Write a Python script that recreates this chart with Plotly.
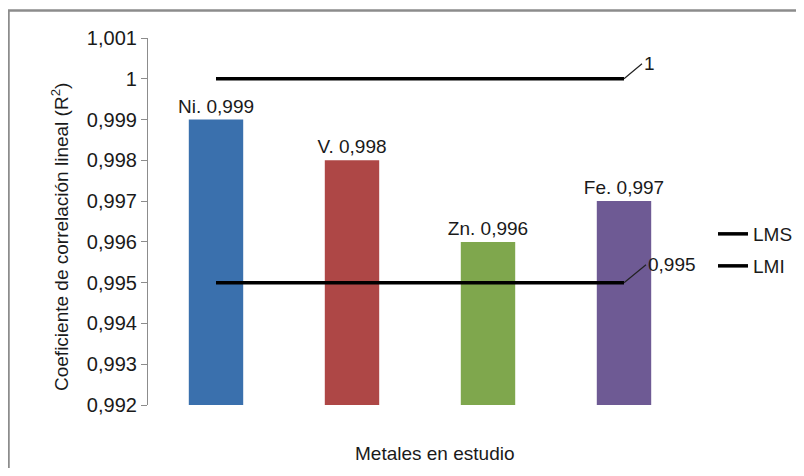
import plotly.graph_objects as go

metals = ["Ni", "V", "Zn", "Fe"]
r2_values = [0.999, 0.998, 0.996, 0.997]
bar_colors = ["#3A70AD", "#AE4746", "#7FA74D", "#6E5A94"]
lms_value = 1.0
lmi_value = 0.995
y_ticks = [0.992, 0.993, 0.994, 0.995, 0.996, 0.997, 0.998, 0.999, 1.0, 1.001]

FONT = "Liberation Sans, Arial, sans-serif"
TXT = "#1a1a1a"
x_pos = list(range(len(metals)))

def fmt(v):
    s = f"{v:.3f}".rstrip("0").rstrip(".")
    return s.replace(".", ",")

bar_text = [f"{m}. {fmt(v)}" for m, v in zip(metals, r2_values)]

# page body has an 8px margin: figure origin sits at (8, 8) on screen
OFF = 8
PL, PR, PT, PB = 148, 692, 38, 405  # plot area on screen
W, H = 804 - 2 * OFF, 476 - 2 * OFF
ml, mt = PL - OFF, PT - OFF
mr = W - (PR - OFF)
mb = H - (PB - OFF)
pw, ph = PR - PL, PB - PT

def px(xs):
    return (xs - PL) / pw

def py(ys):
    return (PB - ys) / ph

fig = go.Figure()
fig.add_trace(go.Bar(
    x=x_pos, y=r2_values, width=0.4,
    marker=dict(color=bar_colors, line=dict(width=0)),
    text=bar_text, textposition="outside", cliponaxis=False,
    constraintext="none",
    textfont=dict(family=FONT, size=19, color=TXT),
    showlegend=False,
))
fig.add_trace(go.Scatter(
    x=[x_pos[0], x_pos[-1]], y=[lms_value, lms_value], mode="lines",
    line=dict(color="black", width=3.5), name="LMS", legend="legend",
))
fig.add_trace(go.Scatter(
    x=[x_pos[0], x_pos[-1]], y=[lmi_value, lmi_value], mode="lines",
    line=dict(color="black", width=3.5), name="LMI", legend="legend2",
))

for val, ax, ay in [(lms_value, 18, -15), (lmi_value, 22, -18)]:
    fig.add_annotation(
        x=x_pos[-1], y=val, text=fmt(val), showarrow=True, arrowhead=0,
        arrowwidth=1.2, arrowcolor="#222", ax=ax, ay=ay, xanchor="left",
        standoff=0, font=dict(family=FONT, size=19, color=TXT),
    )

fig.add_annotation(
    x=px(435), y=py(453), xref="paper", yref="paper",
    xanchor="center", yanchor="middle",
    text="Metales en estudio", showarrow=False,
    font=dict(family=FONT, size=19, color=TXT),
)
fig.add_annotation(
    x=px(60), y=py(237), xref="paper", yref="paper", textangle=-90,
    xanchor="center", yanchor="middle",
    text="Coeficiente de correlación lineal (R<sup>2</sup>)", showarrow=False,
    font=dict(family=FONT, size=19, color=TXT),
)

# outer frame (cropped at right and bottom)
fig.add_shape(type="path", xref="paper", yref="paper",
              path=f"M {px(8.5)},{py(490)} L {px(8.5)},{py(10.5)} L {px(820)},{py(10.5)}",
              line=dict(color="#8c8c8c", width=2.5))

fig.update_layout(
    width=W, height=H,
    margin=dict(l=ml, r=mr, t=mt, b=mb, autoexpand=False),
    paper_bgcolor="white", plot_bgcolor="white",
    separators=", ",
    font=dict(family=FONT, size=19, color=TXT),
    xaxis=dict(range=[-0.5, 3.5], visible=False),
    yaxis=dict(
        range=[0.992, 1.001], tickvals=y_ticks,
        ticktext=[fmt(v) for v in y_ticks],
        showgrid=False, zeroline=False,
        showline=True, linecolor="#8c8c8c", linewidth=1.2,
        ticks="outside", ticklen=6, tickcolor="#8c8c8c",
        tickfont=dict(family=FONT, size=20, color=TXT),
    ),
    legend=dict(x=px(713), y=py(234), xanchor="left", yanchor="middle",
                font=dict(family=FONT, size=19, color=TXT), bgcolor="rgba(0,0,0,0)"),
    legend2=dict(x=px(713), y=py(266), xanchor="left", yanchor="middle",
                 font=dict(family=FONT, size=19, color=TXT), bgcolor="rgba(0,0,0,0)"),
)

fig.write_html("out.html")
